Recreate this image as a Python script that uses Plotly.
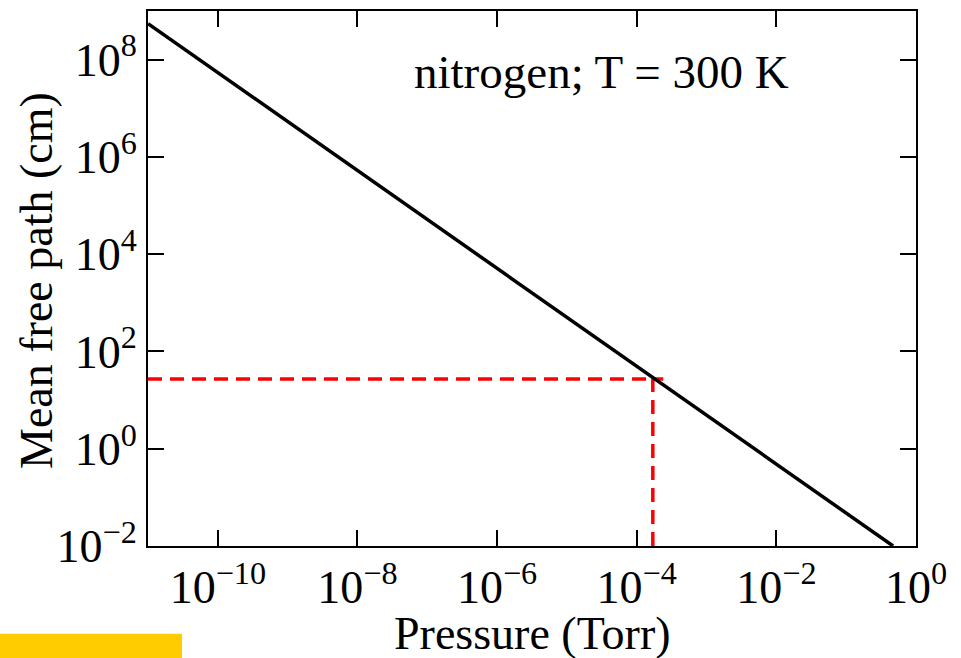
import plotly.graph_objects as go

# data
pressure = [1e-11, 0.47]          # Torr
mean_free_path = [5.5e8, 1e-2]    # cm
guide_h_x = [1e-11, 2.4e-4]
guide_h_y = [27, 27]
guide_v_x = [1.7e-4, 1.7e-4]
guide_v_y = [1e-2, 27]

x_tickvals = [1e-10, 1e-8, 1e-6, 1e-4, 1e-2, 1e0]
x_ticktext = ["10<sup>−10</sup>", "10<sup>−8</sup>", "10<sup>−6</sup>",
              "10<sup>−4</sup>", "10<sup>−2</sup>", "10<sup>0</sup>"]
y_tickvals = [1e-2, 1e0, 1e2, 1e4, 1e6, 1e8]
y_ticktext = ["10<sup>−2</sup>", "10<sup>0</sup>", "10<sup>2</sup>",
              "10<sup>4</sup>", "10<sup>6</sup>", "10<sup>8</sup>"]

FONT = "Liberation Serif, Times New Roman, serif"

fig = go.Figure()
fig.add_trace(go.Scatter(x=guide_h_x, y=guide_h_y, mode="lines",
                         line=dict(color="#ff0000", width=3.5, dash="14px,8px"),
                         showlegend=False, hoverinfo="skip"))
fig.add_trace(go.Scatter(x=guide_v_x, y=guide_v_y, mode="lines",
                         line=dict(color="#ff0000", width=3.5, dash="14px,8px"),
                         showlegend=False, hoverinfo="skip"))
fig.add_trace(go.Scatter(x=pressure, y=mean_free_path, mode="lines",
                         line=dict(color="black", width=3.5),
                         showlegend=False))

axis_common = dict(showline=True, linecolor="black", linewidth=2, mirror="ticks",
                   ticks="inside", ticklen=16, tickwidth=2, tickcolor="black",
                   showgrid=False, zeroline=False,
                   tickfont=dict(family=FONT, size=46, color="black"))

fig.update_xaxes(type="log", range=[-11, 0], tickvals=x_tickvals, ticktext=x_ticktext,
                 **axis_common)
fig.update_yaxes(type="log", range=[-2, 9], tickvals=y_tickvals, ticktext=y_ticktext,
                 **axis_common)

# axis titles placed precisely
fig.add_annotation(text="Mean free path (cm)", xref="paper", yref="paper",
                   x=(37 - 148) / 768, y=(546 - 280) / 537, xanchor="center", yanchor="middle",
                   textangle=-90, showarrow=False,
                   font=dict(family=FONT, size=46, color="black"))
fig.add_annotation(text="Pressure (Torr)", xref="paper", yref="paper",
                   x=0.5, y=(546 - 634) / 537, xanchor="center", yanchor="middle",
                   showarrow=False,
                   font=dict(family=FONT, size=46, color="black"))

fig.add_annotation(text="nitrogen; T = 300 K", xref="paper", yref="paper",
                   x=(412 - 148) / 768, y=(546 - 70) / 537, xanchor="left", yanchor="middle",
                   showarrow=False, font=dict(family=FONT, size=47, color="black"))

fig.add_shape(type="rect", xref="paper", yref="paper",
              x0=(0 - 148) / 768, x1=(182 - 148) / 768,
              y0=(546 - 660) / 537, y1=(546 - 634) / 537,
              fillcolor="#ffcc00", line=dict(width=0), layer="above")

fig.update_layout(width=961, height=658,
                  margin=dict(l=148, r=45, t=9, b=112),
                  paper_bgcolor="white", plot_bgcolor="white",
                  font=dict(family=FONT, color="black"))

fig.write_html("out.html")
